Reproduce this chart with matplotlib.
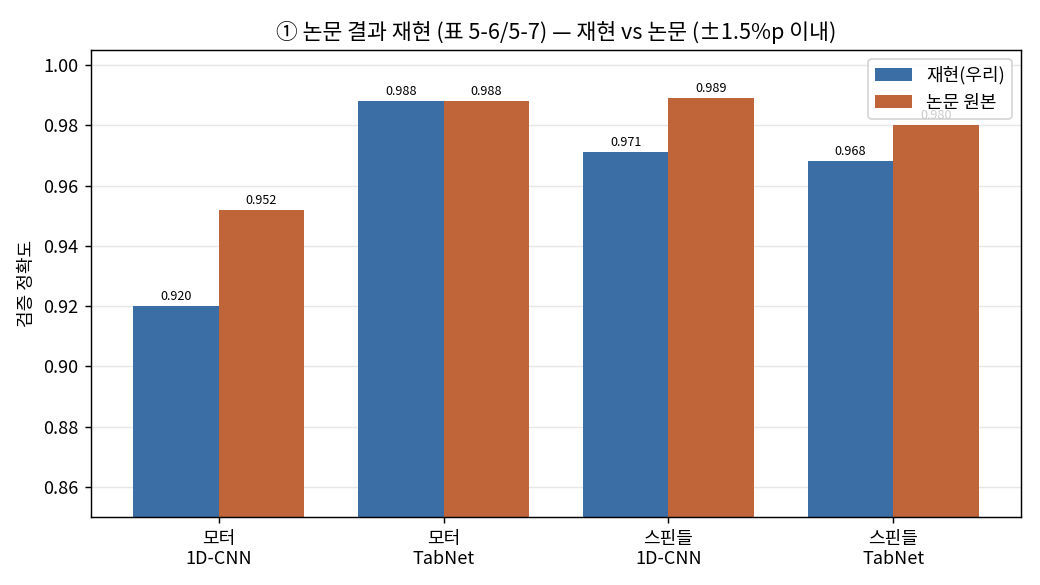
import numpy as np
import matplotlib
matplotlib.use("Agg")
from matplotlib import pyplot as plt

plt.rcParams['font.family'] = ['Noto Sans CJK KR', 'DejaVu Sans']
plt.rcParams['axes.unicode_minus'] = False

categories = ["모터\n1D-CNN", "모터\nTabNet", "스핀들\n1D-CNN", "스핀들\nTabNet"]
ours = [0.920, 0.988, 0.971, 0.968]
paper = [0.952, 0.988, 0.989, 0.980]

blue = "#3a6ea5"
orange = "#c0653a"

fig = plt.figure(figsize=(8, 4.5), dpi=130)
ax = fig.add_axes([91 / 1040, 68 / 585, 930 / 1040, 467 / 585])

x = np.arange(len(categories))
w = 0.38

b1 = ax.bar(x - w / 2, ours, width=w, color=blue, label="재현(우리)")
b2 = ax.bar(x + w / 2, paper, width=w, color=orange, label="논문 원본")

for bars in (b1, b2):
    for b in bars:
        ax.text(b.get_x() + b.get_width() / 2, b.get_height() + 0.001,
                "%.3f" % b.get_height(), ha="center", va="bottom", fontsize=7)

ax.set_ylim(0.85, 1.005)
ax.set_xticks(x)
ax.set_xticklabels(categories, fontsize=10)
ax.tick_params(axis="y", labelsize=10)
ax.set_ylabel("검증 정확도", fontsize=10)
ax.set_title("① 논문 결과 재현 (표 5-6/5-7) — 재현 vs 논문 (±1.5%p 이내)", fontsize=12)
ax.yaxis.grid(True, alpha=0.3)
ax.set_axisbelow(True)
ax.legend(loc="upper right", fontsize=10)

plt.savefig("out.png", dpi=130)
